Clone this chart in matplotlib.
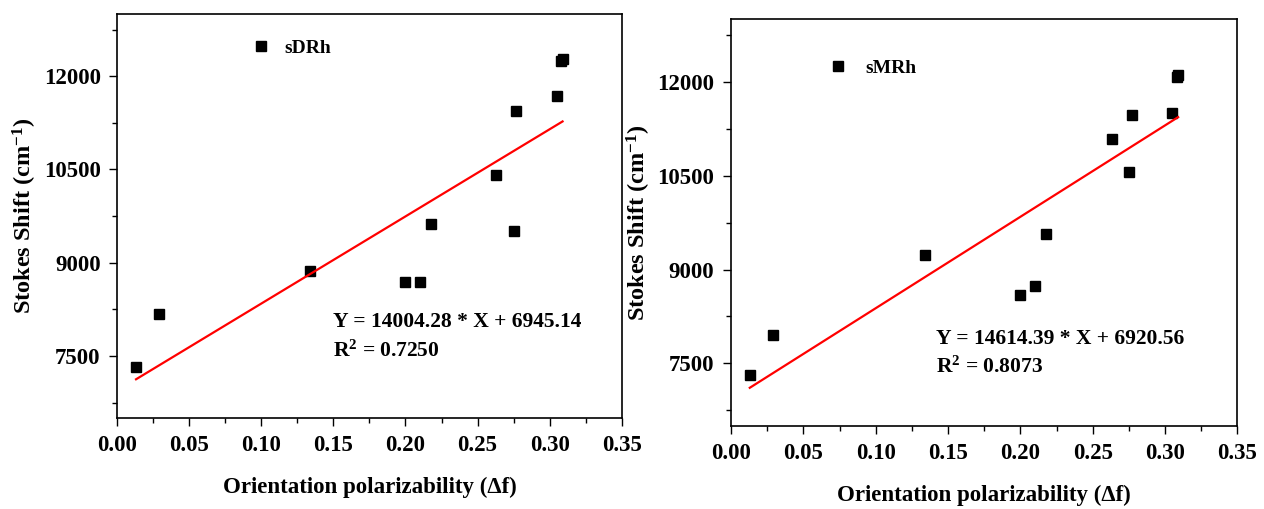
import numpy as np
import matplotlib
matplotlib.use("Agg")
import matplotlib.pyplot as plt
from matplotlib.ticker import MultipleLocator

# Orientation polarizability of the solvents (shared by both dyes)
delta_f = [0.013, 0.029, 0.134, 0.200, 0.210, 0.218, 0.263, 0.275, 0.277, 0.305, 0.308, 0.309]

# Stokes shifts (cm^-1)
stokes_sdrh = [7330, 8180, 8865, 8685, 8685, 9620, 10405, 9515, 11440, 11685, 12250, 12270]
stokes_smrh = [7313, 7948, 9229, 8595, 8744, 9571, 11094, 10553, 11472, 11499, 12070, 12105]

# linear fits (slope, intercept, R^2)
fit_sdrh = (14004.28, 6945.14, 0.7250)
fit_smrh = (14614.39, 6920.56, 0.8073)

plt.rcParams['font.family'] = ['Liberation Serif', 'DejaVu Serif']
plt.rcParams['font.weight'] = 'bold'
plt.rcParams['mathtext.fontset'] = 'custom'
plt.rcParams['mathtext.rm'] = 'Liberation Serif:bold'
plt.rcParams['mathtext.it'] = 'Liberation Serif:bold'
plt.rcParams['mathtext.bf'] = 'Liberation Serif:bold'
plt.rcParams['mathtext.default'] = 'rm'


def draw_panel(ax, y, fit, name, leg_anchor, text_pos, text_pad):
    slope, icpt, r2 = fit
    ax.plot(delta_f, y, 's', color='black', markersize=6.5, label=name, linestyle='none')
    xf = np.array([min(delta_f), max(delta_f)])
    ax.plot(xf, slope * xf + icpt, color='red', lw=1.6)

    ax.set_xlim(0, 0.35)
    ax.set_ylim(6500, 13000)
    ax.xaxis.set_major_locator(MultipleLocator(0.05))
    ax.xaxis.set_minor_locator(MultipleLocator(0.025))
    ax.yaxis.set_major_locator(MultipleLocator(1500))
    ax.yaxis.set_minor_locator(MultipleLocator(750))
    ax.set_xticks(np.arange(0, 0.351, 0.05))
    ax.set_xticklabels([f"{v:.2f}" for v in np.arange(0, 0.351, 0.05)])
    ax.set_yticks([7500, 9000, 10500, 12000])
    ax.tick_params(which='major', direction='out', length=6, width=1.0,
                   labelsize=16.5, pad=6, top=False, right=False)
    ax.tick_params(which='minor', direction='out', length=3.5, width=1.0,
                   top=False, right=False)
    for s in ax.spines.values():
        s.set_linewidth(1.2)

    ax.set_xlabel('Orientation polarizability (Δf)', fontsize=16.5, fontweight='bold', labelpad=15)
    ax.set_ylabel('Stokes Shift (cm$^{-1}$)', fontsize=17.5, fontweight='bold', labelpad=3)

    ax.legend(loc='center left', bbox_to_anchor=leg_anchor, frameon=False,
              borderpad=0, borderaxespad=0, handlelength=1.0,
              handletextpad=text_pad, numpoints=1,
              prop={'family': 'Liberation Serif', 'weight': 'bold', 'size': 14})

    tx, ty, ty2 = text_pos
    ax.text(tx, ty, f'Y = {slope:.2f} * X + {icpt:.2f}', fontsize=15.5,
            fontweight='bold', ha='left', va='center')
    ax.text(tx, ty2, f'R$^2$ = {r2:.4f}', fontsize=15.5,
            fontweight='bold', ha='left', va='center')


fig = plt.figure(figsize=(12.64, 5.09), dpi=100)
ax1 = fig.add_axes([0.0928, 0.1782, 0.399, 0.7943])
ax2 = fig.add_axes([0.5783, 0.1631, 0.4007, 0.799])

draw_panel(ax1, stokes_sdrh, fit_sdrh, 'sDRh', (0.265, 0.9166), (0.1497, 8046, 7580), 0.72)
draw_panel(ax2, stokes_smrh, fit_smrh, 'sMRh', (0.1915, 0.8795), (0.1418, 7884, 7446), 0.92)

fig.savefig('out.png', dpi=100)
